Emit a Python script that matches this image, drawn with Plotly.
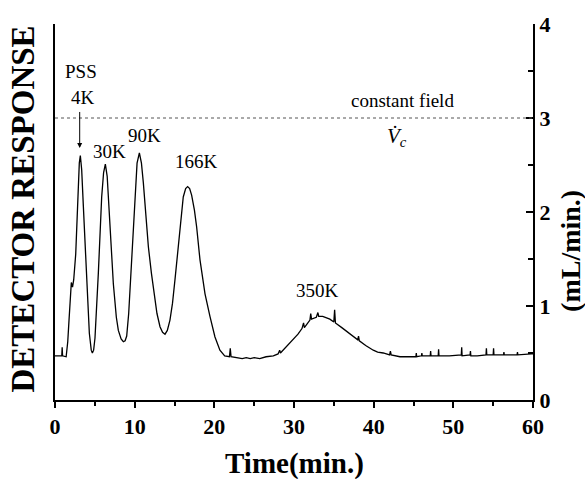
import plotly.graph_objects as go

# Elution time (min) and detector response (plotted on the 0-4 scale)
time_min = [0.0, 0.5, 0.85, 0.9, 0.95, 1.4, 1.6, 1.76, 1.95, 2.05, 2.2, 2.35, 2.6, 2.85, 3.05, 3.18,
            3.35, 3.56, 3.97, 4.31, 4.55, 4.69, 4.85, 5.02, 5.44, 5.86, 6.1, 6.32, 6.55, 6.78, 7.32,
            7.7, 7.95, 8.3, 8.58, 8.8, 9.0, 9.25, 9.54, 10.04, 10.3, 10.59, 10.85, 11.09, 11.72,
            12.1, 12.47, 12.8, 13.18, 13.5, 13.81, 14.1, 14.43, 14.75, 15.06, 15.4, 15.69, 16.1,
            16.4, 16.65, 16.9, 17.15, 17.5, 17.78, 18.2, 18.83, 19.45, 20.08, 20.7, 21.3, 21.9,
            22.0, 22.1, 22.8, 23.5, 24.0, 24.5, 25.0, 25.7, 26.5, 27.4, 28.0, 28.2, 28.3, 29.0,
            29.9, 30.5, 31.0, 31.2, 31.3, 32.0, 32.1, 32.2, 32.8, 33.0, 33.1, 33.6, 34.5, 35.0,
            35.1, 35.2, 36.0, 36.6, 37.3, 38.0, 38.1, 38.2, 39.0, 39.5, 39.95, 40.5, 41.2, 42.0,
            42.1, 42.2, 43.3, 44.5, 45.3, 45.35, 45.4, 46.0, 46.05, 46.1, 47.1, 47.15, 47.2, 48.1,
            48.15, 48.2, 49.5, 51.0, 51.05, 51.1, 52.1, 52.15, 52.2, 53.0, 54.1, 54.15, 54.2, 55.0,
            55.05, 55.1, 56.3, 56.35, 56.4, 57.5, 58.0, 58.05, 58.1, 59.8, 60.0]
response = [0.47, 0.47, 0.47, 0.56, 0.47, 0.46, 0.62, 0.85, 1.2, 1.25, 1.2, 1.28, 1.55, 2.23, 2.52, 2.60,
            2.45, 2.06, 1.24, 0.71, 0.53, 0.50, 0.53, 0.66, 1.35, 2.16, 2.42, 2.51, 2.38, 2.06, 1.24,
            0.88, 0.74, 0.65, 0.62, 0.63, 0.68, 0.92, 1.35, 2.23, 2.52, 2.63, 2.52, 2.31, 1.63,
            1.35, 1.13, 0.92, 0.78, 0.72, 0.70, 0.74, 0.85, 1.03, 1.28, 1.55, 1.81, 2.16,
            2.25, 2.27, 2.25, 2.18, 2.02, 1.84, 1.49, 1.13, 0.89, 0.67, 0.53, 0.47, 0.46,
            0.55, 0.46, 0.45, 0.44, 0.45, 0.44, 0.45, 0.44, 0.46, 0.47, 0.49, 0.53, 0.50, 0.56,
            0.64, 0.70, 0.76, 0.82, 0.77, 0.85, 0.92, 0.86, 0.88, 0.93, 0.89, 0.89, 0.86, 0.83,
            0.96, 0.82, 0.77, 0.73, 0.68, 0.64, 0.68, 0.63, 0.58, 0.55, 0.53, 0.51, 0.50, 0.48,
            0.52, 0.48, 0.46, 0.46, 0.46, 0.50, 0.46, 0.47, 0.50, 0.47, 0.47, 0.52, 0.47, 0.47,
            0.54, 0.47, 0.47, 0.48, 0.56, 0.47, 0.48, 0.52, 0.47, 0.47, 0.48, 0.55, 0.48, 0.48,
            0.55, 0.48, 0.48, 0.51, 0.48, 0.48, 0.48, 0.51, 0.48, 0.49, 0.49]

constant_field = 3.0

# Peak labels: text, x, y
peak_labels = ["PSS", "4K", "30K", "90K", "166K", "350K"]
peak_label_x = [3.3, 3.5, 6.9, 11.2, 17.8, 33.0]
peak_label_y = [3.49, 3.22, 2.64, 2.81, 2.54, 1.17]

FONT = "Liberation Serif, Times New Roman, Times, serif"

fig = go.Figure()
fig.add_trace(go.Scatter(x=time_min, y=response, mode="lines",
                         line=dict(color="black", width=1.3),
                         yaxis="y2", showlegend=False, hoverinfo="skip"))

# dotted constant-field line
fig.add_shape(type="line", xref="x", yref="y", x0=0, x1=60,
              y0=constant_field, y1=constant_field,
              line=dict(color="#555555", width=1, dash="dot"))

annotations = []
for t, x, y in zip(peak_labels, peak_label_x, peak_label_y):
    annotations.append(dict(x=x, y=y, xref="x", yref="y", text=t, showarrow=False,
                            font=dict(family=FONT, size=19, color="black")))
# arrow to 4K peak
annotations.append(dict(x=3.1, y=2.68, xref="x", yref="y", ax=3.1, ay=3.08,
                        axref="x", ayref="y", text="", showarrow=True,
                        arrowhead=2, arrowsize=1, arrowwidth=1, arrowcolor="black"))
annotations.append(dict(x=43.6, y=3.19, xref="x", yref="y", text="constant field",
                        showarrow=False, font=dict(family=FONT, size=19, color="black")))
annotations.append(dict(x=42.9, y=2.80, xref="x", yref="y",
                        text="<i>V\u0307</i><sub><i>c</i></sub>",
                        showarrow=False, font=dict(family=FONT, size=21, color="black")))
# axis titles
annotations.append(dict(x=0.5, y=-0.17, xref="paper", yref="paper", text="<b>Time(min.)</b>",
                        showarrow=False, xanchor="center", yanchor="middle",
                        font=dict(family=FONT, size=29, color="black")))
annotations.append(dict(x=-0.068, y=0.508, xref="paper", yref="paper",
                        text="<b>DETECTOR RESPONSE</b>", textangle=-90,
                        showarrow=False, xanchor="center", yanchor="middle",
                        font=dict(family=FONT, size=33, color="black")))
annotations.append(dict(x=1.077, y=0.396, xref="paper", yref="paper",
                        text="<b>(mL/min.)</b>", textangle=-90,
                        showarrow=False, xanchor="center", yanchor="middle",
                        font=dict(family=FONT, size=28, color="black")))

tickfont = dict(family="Liberation Serif", size=22, color="black", weight=700)

fig.update_layout(
    width=585, height=479,
    margin=dict(l=55, r=52, t=24, b=79),
    paper_bgcolor="white", plot_bgcolor="white",
    showlegend=False,
    font=dict(family=FONT, color="black"),
    annotations=annotations,
    xaxis=dict(range=[0, 60], showline=True, linecolor="black", linewidth=2,
               ticks="outside", ticklen=6, tickwidth=2, tickcolor="black",
               dtick=10, tick0=0, tickfont=tickfont,
               showgrid=False, zeroline=False,
               minor=dict(dtick=5, ticks="outside", ticklen=4, tickwidth=1.5, tickcolor="black")),
    yaxis=dict(range=[0, 4], showline=True, linecolor="black", linewidth=2,
               ticks="", showticklabels=False, showgrid=False, zeroline=False),
    yaxis2=dict(range=[0, 4], overlaying="y", side="right", showline=True,
                linecolor="black", linewidth=2, ticks="inside", ticklen=7, tickwidth=2,
                tickcolor="black", dtick=1, tick0=0, tickfont=tickfont,
                showgrid=False, zeroline=False,
                minor=dict(dtick=0.5, ticks="inside", ticklen=5, tickwidth=1.5, tickcolor="black")),
)

fig.write_html("out.html")
